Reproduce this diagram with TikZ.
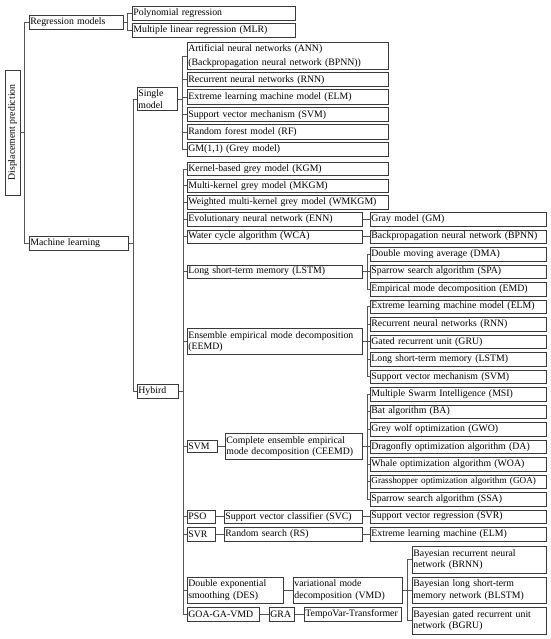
\documentclass[tikz,border=0pt]{standalone}
\usepackage{fontspec}
\setmainfont{Liberation Serif}
\usepackage{xcolor}
\definecolor{boxGray}{HTML}{3A3A3A}
\definecolor{lineGray}{HTML}{555555}
\usepackage{tikz}
\usetikzlibrary{positioning}

\begin{document}
\begin{tikzpicture}[x=1pt, y=-1pt,
    bx/.style 2 args={draw=boxGray, line width=0.8pt, anchor=north west, inner xsep=1pt, inner ysep=0pt,
        text width=#1pt, minimum height=#2pt, align=left, font=\fontsize{9.8}{11.5}\selectfont},
    link/.style={draw=lineGray, line width=0.7pt},
    trunk/.style={draw=lineGray, line width=1.1pt}]
    \useasboundingbox (0,0) rectangle (550,639);

    % root and first level
    \node[draw=boxGray, line width=0.8pt, rotate=90, minimum width=125pt, minimum height=15pt, inner sep=0pt,
        font=\fontsize{9.8}{11.5}\selectfont] (root) at (12.5,132.5) {Displacement prediction};
    \node[bx={92}{14}] (reg) at (29,15) {Regression models};
    \node[bx={97}{14}] (ml) at (29,236) {Machine learning};
    \foreach \c in {reg,ml}
        \draw[link] (root.south) -- ++(4,0) |- (\c.west);

    % regression models
    \node[bx={161}{14}] (poly) at (132,6) {Polynomial regression};
    \node[bx={161}{14}] (mlr) at (132,23) {Multiple linear regression (MLR)};
    \foreach \c in {poly,mlr}
        \draw[link] (reg.east) -- ++(4,0) |- (\c.west);

    % machine learning
    \node[bx={38}{23}] (single) at (137,87) {Single\\model};
    \node[bx={39}{14}] (hyb) at (137,384) {Hybird};
    \foreach \c in {single,hyb}
        \draw[link] (ml.east) -- ++(5,0) |- (\c.west);

    % single models
    \node[bx={199}{27}] (ann) at (187,42) {Artificial neural networks (ANN)\\[3pt](Backpropagation neural network (BPNN))};
    \foreach \n/\t [count=\i from 0] in {rnn/Recurrent neural networks (RNN), elm/Extreme learning machine model (ELM),
        svm/Support vector mechanism (SVM), rf/Random forest model (RF), gmOne/{GM(1,1) (Grey model)}}
        \node[bx={199}{14.5}] (\n) at (187,{72+17.5*\i}) {\t};
    \foreach \c in {ann,rnn,elm,svm,rf,gmOne}
        \draw[link] (single.east) -- ++(5,0) |- (\c.west);

    % hybrid models, first column
    \node[bx={199}{13.5}] (kgm) at (187,162) {Kernel-based grey model (KGM)};
    \node[bx={199}{13.5}] (mkgm) at (187,178.7) {Multi-kernel grey model (MKGM)};
    \node[bx={199}{13.5}] (wmkgm) at (187,195.4) {Weighted multi-kernel grey model (WMKGM)};
    \node[bx={173}{13.5}] (enn) at (187,212) {Evolutionary neural network (ENN)};
    \node[bx={173}{13.5}] (wca) at (187,229.5) {Water cycle algorithm (WCA)};
    \node[bx={173}{13.5}] (lstm) at (187,264.5) {Long short-term memory (LSTM)};
    \node[bx={173}{26}] (eemd) at (187,328.25) {Ensemble empirical mode decomposition\\(EEMD)};
    \node[bx={28}{12}] (svmS) at (187,440.25) {SVM};
    \node[bx={26}{13.5}] (pso) at (187,509.5) {PSO};
    \node[bx={26}{13.5}] (svrS) at (187,527) {SVR};
    \node[bx={94}{26.5}] (des) at (187,576.5) {Double exponential\\smoothing (DES)};
    \node[bx={70}{13.5}] (goaga) at (187,607) {GOA-GA-VMD};
    \foreach \c in {kgm,mkgm,wmkgm,enn,wca,lstm,eemd,svmS,pso,svrS,des,goaga}
        \draw[trunk] (hyb.east) -- ++(5,0) |- (\c.west);

    % hybrid models, middle column
    \node[bx={135}{26}] (ceemd) at (225,433.25) {Complete ensemble empirical\\mode decomposition (CEEMD)};
    \node[bx={136}{13.5}] (svc) at (224,509.5) {Support vector classifier (SVC)};
    \node[bx={136}{13.5}] (rs) at (224,527) {Random search (RS)};
    \node[bx={107}{26.5}] (vmd) at (293,576.5) {variational mode\\decomposition (VMD)};
    \node[bx={23}{13.5}] (gra) at (269,607) {GRA};
    \node[bx={95}{13.5}] (tempo) at (304,607) {TempoVar-Transformer};
    \foreach \a/\b in {svmS/ceemd,pso/svc,svrS/rs,des/vmd,goaga/gra,gra/tempo}
        \draw[link] (\a.east) -- (\a.east -| \b.west);

    % hybrid models, right column
    \foreach \n/\t [count=\i from 0] in {gm/Gray model (GM), bpnn/Backpropagation neural network (BPNN),
        dma/Double moving average (DMA), spa/Sparrow search algorithm (SPA), emd/Empirical mode decomposition (EMD),
        elmA/Extreme learning machine model (ELM), rnnA/Recurrent neural networks (RNN), gru/Gated recurrent unit (GRU),
        lstmA/Long short-term memory (LSTM), svmA/Support vector mechanism (SVM), msi/Multiple Swarm Intelligence (MSI),
        ba/Bat algorithm (BA), gwo/Grey wolf optimization (GWO), da/Dragonfly optimization algorithm (DA),
        woa/Whale optimization algorithm (WOA), goa/{\fontsize{9.2}{11.5}\selectfont Grasshopper optimization algorithm (GOA)},
        ssa/Sparrow search algorithm (SSA), svrA/Support vector regression (SVR), elmB/Extreme learning machine (ELM)}
        \node[bx={174}{13.5}] (\n) at (370,{212+17.5*\i}) {\t};
    \foreach \a/\b in {enn/gm,wca/bpnn,svc/svrA,rs/elmB}
        \draw[link] (\a.east) -- (\a.east -| \b.west);
    \foreach \c in {dma,spa,emd}
        \draw[link] (lstm.east) -- ++(5,0) |- (\c.west);
    \foreach \c in {elmA,rnnA,gru,lstmA,svmA}
        \draw[link] (eemd.east) -- ++(5,0) |- (\c.west);
    \foreach \c in {msi,ba,gwo,da,woa,goa,ssa}
        \draw[link] (ceemd.east) -- ++(5,0) |- (\c.west);

    % bayesian models
    \node[bx={132}{26.5}] (brnn) at (412,546) {Bayesian recurrent neural\\network (BRNN)};
    \node[bx={132}{26.5}] (blstm) at (412,576.5) {Bayesian long short-term\\memory network (BLSTM)};
    \node[bx={132}{26.5}] (bgru) at (412,607) {Bayesian gated recurrent unit\\network (BGRU)};
    \foreach \c in {brnn,blstm,bgru}
        \draw[link] (vmd.east) -- ++(5,0) |- (\c.west);
\end{tikzpicture}
\end{document}
